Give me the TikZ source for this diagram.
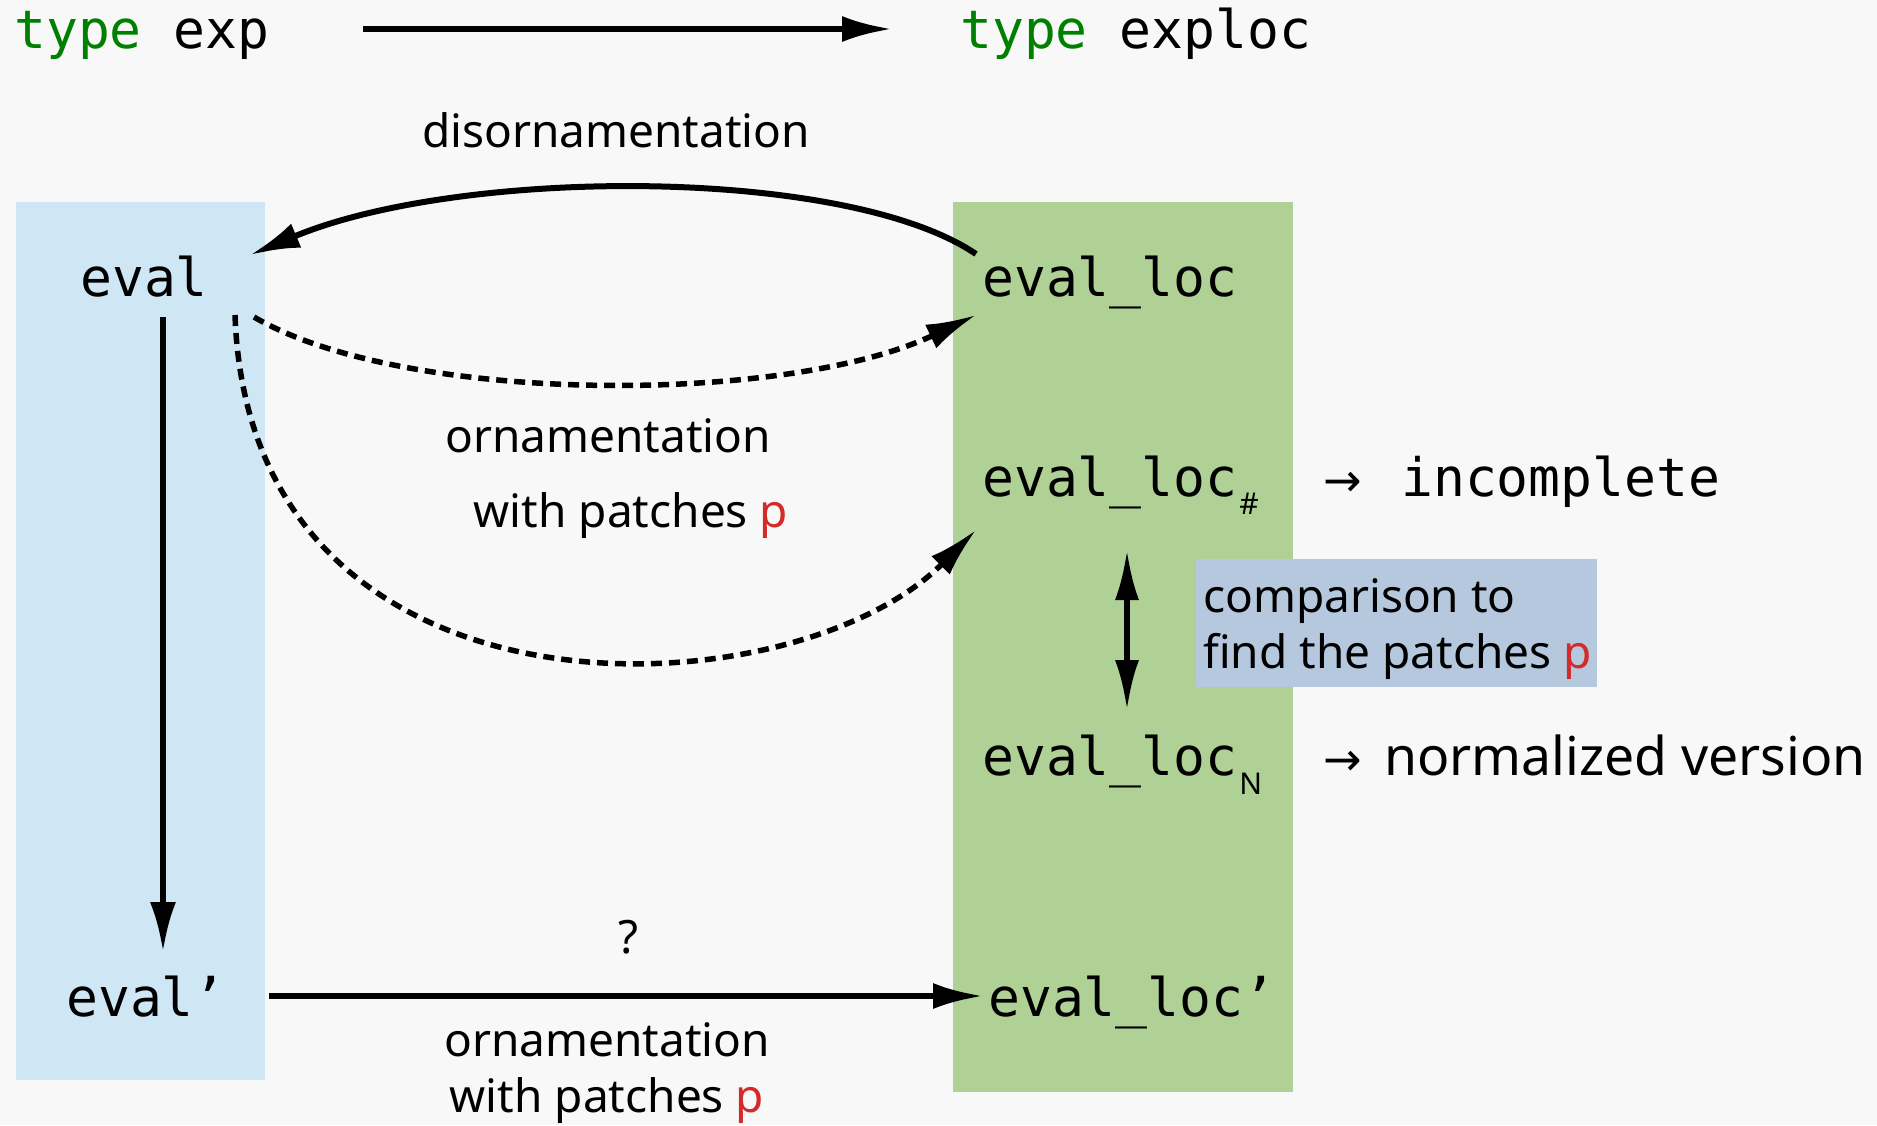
\documentclass[tikz,border=0pt]{standalone}
\usepackage{fontspec}
\setmainfont{Noto Sans}
\setmonofont{DejaVu Sans Mono}
\newfontfamily\symf{DejaVu Sans}
\usetikzlibrary{arrows.meta,calc}
\definecolor{bgc}{HTML}{F8F8F8}
\definecolor{expbox}{HTML}{CFE6F5}
\definecolor{locbox}{HTML}{B0D196}
\definecolor{cmpbox}{HTML}{B5C8DE}
\definecolor{kw}{HTML}{008000}
\definecolor{patch}{HTML}{D42A2A}
\newcommand{\monof}{\fontsize{53}{62}\selectfont\ttfamily}
\newcommand{\sansf}{\fontsize{46}{56}\selectfont}
\newcommand{\bigsansf}{\fontsize{53.5}{62}\selectfont}
\newcommand{\subf}{\fontsize{30}{34}\selectfont\rmfamily}
\newcommand{\pp}{\textcolor{patch}{p}}
\begin{document}
\begin{tikzpicture}[x=1pt,y=-1pt,
  code/.style={font=\monof, inner sep=0pt, anchor=base west},
  lbl/.style={font=\sansf, inner sep=0pt, anchor=base},
  lblw/.style={font=\sansf, inner sep=0pt, anchor=base west},
  arr/.style={line width=6pt, -{Latex[length=50pt,width=26pt]}},
  darr/.style={line width=5.5pt, {Latex[length=50pt,width=24pt]}-{Latex[length=50pt,width=24pt]}},
  dash arr/.style={line width=5.5pt, dash pattern=on 11pt off 7pt, -{Latex[length=50pt,width=26pt]}}]
\fill[bgc] (0,0) rectangle (1877,1125);
\useasboundingbox (0,0) rectangle (1877,1125);

% the two columns
\fill[expbox] (16,202) rectangle (265,1080);
\fill[locbox] (953,202) rectangle (1293,1092);
\fill[cmpbox] (1196,559) rectangle (1597,687);

% type headers
\node[code] (texp) at (14,48) {\textcolor{kw}{type} exp};
\node[code] (texploc) at (960,48) {\textcolor{kw}{type} exploc};

% functions
\node[code] (eval) at (80,296) {eval};
\node[code] (evalp) at (66,1016) {eval’};
\node[code] (evalloc) at (982,296) {eval\_loc};
\node[code] (evallocH) at (982,496) {eval\_loc\hspace{2pt}\raisebox{-18pt}{\subf \#}};
\node[code] (evallocN) at (982,775) {eval\_loc\hspace{2pt}\raisebox{-19pt}{\subf N}};
\node[code] (evallocp) at (988,1016) {eval\_loc’};

% side notes
\node[inner sep=0pt, anchor=base west, font=\symf\fontsize{46}{56}\selectfont] (incarr) at (1323,496) {→};
\node[code] (incomp) at (1401,496) {incomplete};
\node[inner sep=0pt, anchor=base west, font=\symf\fontsize{46}{56}\selectfont] (normarr) at (1323,775) {→};
\node[inner sep=0pt, anchor=base west, font=\bigsansf] (norm) at (1384,775) {normalized version};
\node[lblw] (cmp1) at (1203,612) {comparison to};
\node[lblw] (cmp2) at (1203,668) {find the patches \pp};

% labels
\node[lbl] (disorn) at (616,147) {disornamentation};
\node[lbl] (orn1) at (608,452) {ornamentation};
\node[lbl] (orn2) at (631,527) {with patches \pp};
\node[lbl] (q) at (628,953) {?};
\node[lbl] (orn3) at (607,1056) {ornamentation};
\node[lbl] (orn4) at (607,1112) {with patches \pp};

% connectors
\draw[arr] ($(texp.base west)+(349,-19)$) -- ($(texploc.base west)+(-68,-19)$);
\draw[arr] ($(eval.base west)+(83,21)$) -- ($(evalp.base west)+(97,-64)$);
\draw[arr] ($(evalp.base west)+(203,-20)$) -- ($(evallocp.base west)+(-5,-20)$);
\draw[arr] ($(evalloc.base west)+(-6,-42)$) .. controls +(-130,-88) and +(210,-88) .. ($(eval.base west)+(170,-41)$);
\draw[dash arr] ($(eval.base west)+(174,21)$) .. controls +(150,88) and +(-190,90) .. ($(evalloc.base west)+(-6,19)$);
\draw[dash arr] ($(eval.base west)+(155,19)$) .. controls +(15,425) and +(-185,185) .. ($(evallocH.base west)+(-6,34)$);
\draw[darr] ($(evallocH.base west)+(145,54)$) -- ($(evallocN.base west)+(145,-65)$);
\end{tikzpicture}
\end{document}
